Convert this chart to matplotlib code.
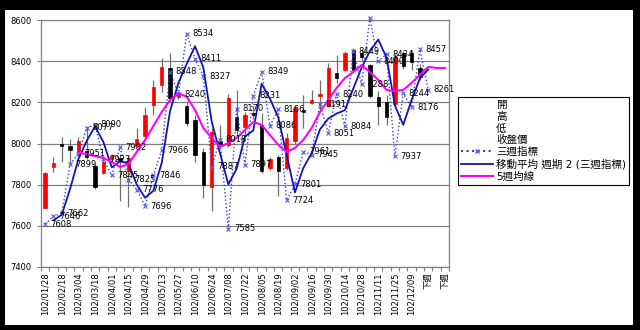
import numpy as np
import pandas as pd
import matplotlib
matplotlib.use('Agg')
import matplotlib.pyplot as plt
from matplotlib.lines import Line2D
from matplotlib.patches import Rectangle

#font (numbers in DejaVu, chinese falls back to Noto CJK)
plt.rcParams['font.family'] = ['DejaVu Sans', 'Noto Sans CJK TC']
plt.rcParams['axes.unicode_minus'] = False

#===============================================================================
# data
#===============================================================================
weeks = ['102/01/28', '102/02/04', '102/02/18', '102/02/25', '102/03/04', '102/03/11',
         '102/03/18', '102/03/25', '102/04/01', '102/04/08', '102/04/15', '102/04/22',
         '102/04/29', '102/05/06', '102/05/13', '102/05/20', '102/05/27', '102/06/03',
         '102/06/10', '102/06/17', '102/06/24', '102/07/01', '102/07/08', '102/07/15',
         '102/07/22', '102/07/29', '102/08/05', '102/08/12', '102/08/19', '102/08/26',
         '102/09/02', '102/09/09', '102/09/16', '102/09/23', '102/09/30', '102/10/07',
         '102/10/14', '102/10/21', '102/10/28', '102/11/04', '102/11/11', '102/11/18',
         '102/11/25', '102/12/02', '102/12/09', '102/12/16', '下週', '下週', '下週']

#weekly candles (idx 0..45)
open_ = [7687, 7885, 8000, 7990, 7964, 7962, 7890, 7855, 7925, 7930, 7865, 7990,
         8035, 8187, 8284, 8366, 8225, 8180, 8114, 7960, 7790, 8010, 7995, 8130,
         8080, 8150, 8090, 7880, 7936, 7880, 8010, 8165, 8197, 8230, 8180, 8342,
         8357, 8455, 8440, 8380, 8228, 8203, 8190, 8440, 8440, 8365]
high = [7860, 7935, 8030, 8020, 8033, 8075, 7900, 7935, 7950, 7950, 7945, 8075,
        8175, 8310, 8415, 8440, 8250, 8205, 8140, 7980, 8075, 8090, 8240, 8260,
        8155, 8180, 8150, 7935, 7945, 8050, 8185, 8235, 8260, 8310, 8390, 8430,
        8450, 8465, 8460, 8385, 8255, 8236, 8435, 8450, 8455, 8385]
low = [7685, 7860, 7910, 7895, 7941, 7925, 7780, 7850, 7915, 7720, 7690, 7985,
       8010, 8140, 8250, 8200, 8215, 8085, 7912, 7735, 7670, 7990, 7985, 8040,
       8040, 8120, 7855, 7870, 7745, 7870, 8000, 8075, 8190, 8165, 8175, 8295,
       8350, 8350, 8400, 8220, 8090, 8090, 8180, 8360, 8355, 8310]
close = [7857, 7905, 7990, 7968, 8012, 7936, 7790, 7912, 7940, 7920, 7930, 8022,
         8140, 8276, 8373, 8221, 8240, 8100, 7944, 7797, 8057, 8000, 8220, 8065,
         8140, 8140, 7865, 7925, 7865, 8027, 8173, 8155, 8211, 8240, 8366, 8320,
         8440, 8357, 8420, 8230, 8180, 8130, 8420, 8375, 8395, 8325]

#3-week indicator (idx 0..46)
ind3 = [7608, 7646, 7662, 7899, 7951, 8077, 8090, 7923, 7845, 7982, 7825, 7776,
        7696, 7846, 7966, 8348, 8240, 8534, 8411, 8327, 7887, 8018, 7585, 8170,
        7897, 8231, 8349, 8086, 8166, 7724, 7801, 7961, 7945, 8191, 8051, 8240,
        8084, 8449, 8288, 8610, 8400, 8434, 7937, 8244, 8176, 8457, 8261]

#5-week line (idx 4..48)
ma5w = [7954, 7949, 7939, 7930, 7910, 7886, 7900, 7959, 8017, 8085, 8153, 8211,
        8245, 8226, 8163, 8075, 8027, 7983, 8003, 8027, 8066, 8105, 8090, 8041,
        7993, 7959, 7978, 8017, 8075, 8153, 8211, 8270, 8318, 8347, 8381, 8347,
        8309, 8260, 8255, 8260, 8294, 8333, 8372, 8367, 8367]

n = len(weeks)
x = np.arange(n)
ylo, yhi = 7400, 8600

candles = pd.DataFrame({'open': open_, 'high': high, 'low': low, 'close': close})
s_ind = pd.Series(ind3, index=np.arange(len(ind3)), dtype=float).reindex(x)
s_ma2 = s_ind.rolling(2).mean()
s_5w = pd.Series(ma5w, index=np.arange(4, 4 + len(ma5w)), dtype=float).reindex(x)

#===============================================================================
# figure setup
#===============================================================================
fig = plt.figure(figsize=(6.4, 3.3), dpi=100)
fig.patch.set_facecolor('black')
fig.patches.append(Rectangle((5/640, 5/330), 628/640, 315/330, transform=fig.transFigure,
                             facecolor='white', edgecolor='none', zorder=-10))

ax = fig.add_axes([41/640, 1-267/330, 408/640, 247/330])
ax.set_facecolor('white')
ax.set_xlim(-0.5, n-0.5)
ax.set_ylim(ylo, yhi)

#grid + spines
ax.set_yticks(np.arange(ylo, yhi+1, 200))
ax.yaxis.grid(True, color='#808080', lw=0.9)
ax.set_axisbelow(True)
for sp in ax.spines.values():
    sp.set_color('#808080')
    sp.set_linewidth(0.9)

ax.tick_params(axis='y', labelsize=6, length=3, color='#808080', pad=4)

#category ticks between weeks, labels every 2nd week
ax.set_xticks(np.arange(-0.5, n, 1))
ax.set_xticklabels([])
ax.tick_params(axis='x', which='major', length=3, color='#808080')
ax.set_xticks(x[::2], minor=True)
ax.set_xticklabels(weeks[::2], minor=True, rotation=90, fontsize=6)
ax.tick_params(axis='x', which='minor', length=0, pad=4)

#===============================================================================
# candles
#===============================================================================
cx = np.arange(len(candles))
ax.vlines(cx, candles['low'], candles['high'], color='#707070', lw=0.9, zorder=2)
up = (candles['close'] >= candles['open']).values
body = (candles['close'] - candles['open']).abs().clip(lower=4)
base = candles[['open', 'close']].min(axis=1)
ax.bar(cx[up], body[up], bottom=base[up], width=0.4, color='#ff0000', edgecolor='#ff0000',
       lw=0.5, zorder=3)
ax.bar(cx[~up], body[~up], bottom=base[~up], width=0.4, color='black', edgecolor='black',
       lw=0.5, zorder=3)

#===============================================================================
# lines
#===============================================================================
ax.plot(x, s_ind, ls=':', color='#3a3ad0', lw=1.0, marker='x', ms=3.5, mew=0.8,
        mec='#5a5ae0', zorder=4, clip_on=False)
ax.plot(x, s_ma2, ls='-', color='#1414b4', lw=1.3, zorder=5)
ax.plot(x, s_5w, ls='-', color='#ff00ff', lw=1.5, zorder=5)

#data labels on the indicator (value above the axis top is not labelled)
for i, v in s_ind.dropna().items():
    if v > yhi:
        continue
    ax.annotate('%d' % v, (i, v), xytext=(4, 0), textcoords='offset points',
                va='center', ha='left', fontsize=6, zorder=6)

#===============================================================================
# legend
#===============================================================================
blank = Line2D([], [], ls='none')
handles = [blank, blank, blank, blank,
           Line2D([], [], ls=':', color='#3a3ad0', marker='x', ms=3.5, mec='#5a5ae0'),
           Line2D([], [], ls='-', color='#1414b4', lw=1.3),
           Line2D([], [], ls='-', color='#ff00ff', lw=1.5)]
labels = ['開', '高', '低', '收盤價', '三週指標', '移動平均 週期 2 (三週指標)', '5週均線']
leg = fig.legend(handles, labels, loc='upper left', bbox_to_anchor=(458/640, 1-97/330),
                 fontsize=7.6, fancybox=False, edgecolor='black', framealpha=1,
                 handlelength=3.0, handletextpad=0.3, labelspacing=0.15, borderpad=0.3,
                 borderaxespad=0)
leg.get_frame().set_linewidth(0.8)

fig.savefig('out.png', dpi=100, facecolor=fig.get_facecolor())
